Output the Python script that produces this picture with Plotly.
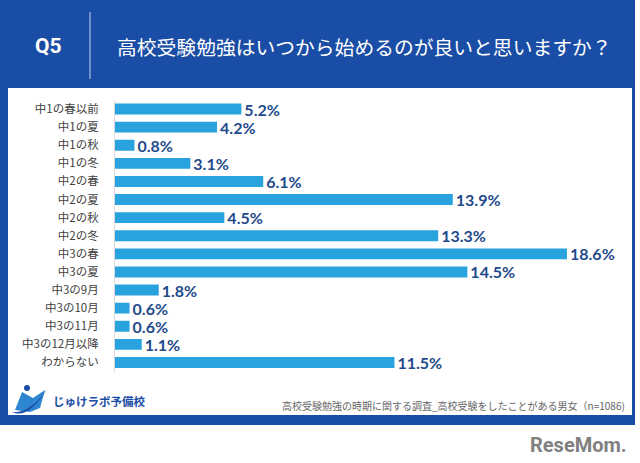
import plotly.graph_objects as go

categories = ["中1の春以前", "中1の夏", "中1の秋", "中1の冬", "中2の春", "中2の夏", "中2の秋",
              "中2の冬", "中3の春", "中3の夏", "中3の9月", "中3の10月", "中3の11月",
              "中3の12月以降", "わからない"]
values = [5.2, 4.2, 0.8, 3.1, 6.1, 13.9, 4.5, 13.3, 18.6, 14.5, 1.8, 0.6, 0.6, 1.1, 11.5]

title_q = "Q5"
title_text = "高校受験勉強はいつから始めるのが良いと思いますか？"
footnote = "高校受験勉強の時期に関する調査_高校受験をしたことがある男女（n=1086)"
brand = "じゅけラボ予備校"
watermark = "ReseMom."

W, H = 640, 463
FRAME = "#1A4DA5"
BAR = "#29A3DD"
LABEL = "#1F4A8C"
JP = "Noto Sans CJK JP"


def px(x):
    return x / W


def py(y):
    return 1 - y / H


fig = go.Figure()
fig.add_trace(go.Bar(
    y=categories, x=values, orientation="h",
    marker=dict(color=BAR, line=dict(width=0)),
    width=0.6,
    text=values, texttemplate="%{x:.1f}%", textposition="outside",
    constraintext="none",
    textfont=dict(family="Lato", size=16, color=LABEL, weight="bold"),
    cliponaxis=False, hoverinfo="skip",
))

shapes = [
    # blue frame
    dict(type="rect", xref="paper", yref="paper", x0=px(0), x1=px(635), y0=py(425), y1=py(0),
         fillcolor=FRAME, line=dict(width=0), layer="below"),
    # white panel
    dict(type="rect", xref="paper", yref="paper", x0=px(8), x1=px(632), y0=py(415), y1=py(88),
         fillcolor="white", line=dict(width=0), layer="below"),
    # separator in header
    dict(type="line", xref="paper", yref="paper", x0=px(90), x1=px(90), y0=py(12), y1=py(79),
         line=dict(color="rgba(255,255,255,0.75)", width=1)),
    # logo icon (simple book shape)
    dict(type="path", xref="paper", yref="paper",
         path=f"M {px(15)} {py(410)} L {px(22)} {py(392)} L {px(33)} {py(398)} L {px(45)} {py(390)} "
              f"L {px(40)} {py(408)} L {px(30)} {py(412)} Z",
         fillcolor="#2E86D1", line=dict(width=0)),
    dict(type="path", xref="paper", yref="paper",
         path=f"M {px(12)} {py(412)} Q {px(28)} {py(420)} {px(48)} {py(388)} "
              f"Q {px(30)} {py(414)} {px(12)} {py(412)} Z",
         fillcolor="#1A4DA5", line=dict(width=0)),
    dict(type="circle", xref="paper", yref="paper", x0=px(24), x1=px(30), y0=py(391), y1=py(385),
         fillcolor="#1A4DA5", line=dict(width=0)),
]

annotations = [
    dict(text=f"<b>{title_q}</b>", x=px(48), y=py(46), xref="paper", yref="paper",
         showarrow=False, xanchor="center", yanchor="middle",
         font=dict(family="Roboto", size=21, color="white")),
    dict(text=title_text, x=px(115), y=py(46), xref="paper", yref="paper",
         showarrow=False, xanchor="left", yanchor="middle",
         font=dict(family=JP, size=19.8, color="white")),
    dict(text=footnote, x=px(627), y=py(405), xref="paper", yref="paper",
         showarrow=False, xanchor="right", yanchor="middle",
         font=dict(family=JP, size=10, color="#666666")),
    dict(text=f"<b>{brand}</b>", x=px(51), y=py(401), xref="paper", yref="paper",
         showarrow=False, xanchor="left", yanchor="middle",
         font=dict(family=JP, size=11.5, color="#1A4DA5")),
    dict(text=f"<b>{watermark}</b>", x=px(629), y=py(445), xref="paper", yref="paper",
         showarrow=False, xanchor="right", yanchor="middle",
         font=dict(family="Roboto", size=20, color="#808080")),
]

fig.update_layout(
    width=W, height=H,
    margin=dict(l=0, r=0, t=0, b=0),
    paper_bgcolor="white", plot_bgcolor="rgba(0,0,0,0)",
    showlegend=False,
    shapes=shapes, annotations=annotations,
    bargap=0.4,
    xaxis=dict(domain=[px(115), px(601)], range=[0, 20], visible=False, fixedrange=True),
    yaxis=dict(domain=[py(371.5), py(100)], categoryorder="array", categoryarray=categories,
               autorange="reversed", showline=True, linecolor="#D9D9D9", linewidth=1,
               showgrid=False, ticks="", ticklabelstandoff=13,
               tickfont=dict(family=JP, size=11.5, color="#404040"), fixedrange=True),
)

fig.write_html("out.html", config={"displayModeBar": False},
               post_script="document.body.style.margin='0';document.body.style.overflow='hidden';")
